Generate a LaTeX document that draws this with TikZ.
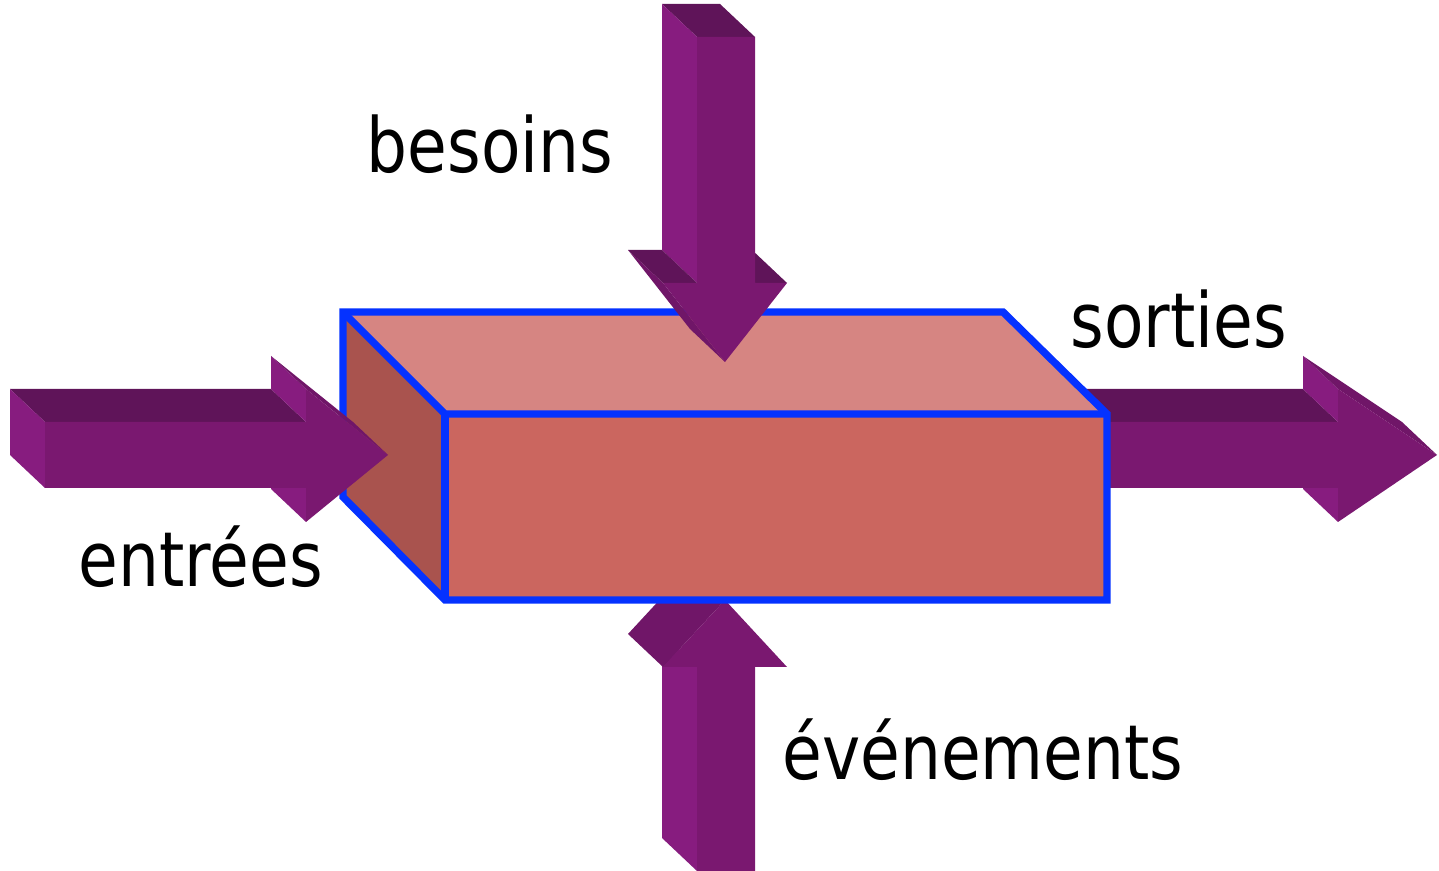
\documentclass[tikz,border=0pt]{standalone}
\usepackage{fontspec}
\setmainfont{DejaVu Sans}[FakeStretch=0.85]

\definecolor{arrowfront}{RGB}{122,24,112}
\definecolor{arrowside}{RGB}{135,28,127}
\definecolor{arrowtop}{RGB}{95,20,89}
\definecolor{arrowslant}{RGB}{112,22,104}
\definecolor{boxtop}{RGB}{214,133,130}
\definecolor{boxfront}{RGB}{203,102,95}
\definecolor{boxleft}{RGB}{169,83,78}
\definecolor{boxblue}{RGB}{5,50,255}

\begin{document}
\begin{tikzpicture}[x=0.01cm, y=-0.01cm,
    arrfront/.style={fill=arrowfront},
    arrside/.style={fill=arrowside},
    arrtop/.style={fill=arrowtop},
    arrslant/.style={fill=arrowslant},
    boxedge/.style={draw=boxblue, line width=2.1pt, line join=miter},
    lbl/.style={font=\fontsize{21.6}{26}\selectfont, inner sep=0pt, anchor=base west}]

    % Page size of the reference (pixel units, y pointing down)
    \useasboundingbox (0,0) rectangle (1439,871);

    % Arrow "sorties": drawn first, the box hides its tail
    \fill[arrtop]   (1050,422) -- (1338,422) -- (1303,389) -- (1015,389) -- cycle;
    \fill[arrside]  (1338,422) -- (1338,389) -- (1303,356) -- (1303,389) -- cycle;
    \fill[arrslant] (1338,389) -- (1437,455) -- (1402,422) -- (1303,356) -- cycle;
    \fill[arrside]  (1338,488) -- (1338,522) -- (1303,489) -- (1303,455) -- cycle;
    \fill[arrfront] (1050,422) -- (1338,422) -- (1338,389) -- (1437,455)
                    -- (1338,522) -- (1338,488) -- (1050,488) -- cycle;

    % Arrow "événements": its tip goes under the box
    \fill[arrside]  (697,871) -- (697,667) -- (662,634) -- (662,838) -- cycle;
    \fill[arrslant] (663,667) -- (725,600) -- (690,567) -- (628,634) -- cycle;
    \fill[arrfront] (697,871) -- (697,667) -- (663,667) -- (725,600)
                    -- (787,667) -- (755,667) -- (755,871) -- cycle;

    % The box: top, left and front faces, then its edges
    \fill[boxtop]   (343,312) -- (1003,312) -- (1107,414) -- (445,414) -- cycle;
    \fill[boxleft]  (343,312) -- (445,414) -- (445,600) -- (343,497) -- cycle;
    \fill[boxfront] (445,414) rectangle (1107,600);
    \draw[boxedge] (343,312) -- (1003,312) -- (1107,414) -- (1107,600)
                   -- (445,600) -- (343,497) -- cycle;
    \draw[boxedge] (343,312) -- (445,414) -- (1107,414);
    \draw[boxedge] (445,414) -- (445,600);

    % Arrow "entrées": lies over the left face
    \fill[arrtop]   (45,422) -- (306,422) -- (271,389) -- (10,389) -- cycle;
    \fill[arrside]  (45,422) -- (45,488) -- (10,455) -- (10,389) -- cycle;
    \fill[arrside]  (306,422) -- (306,389) -- (271,356) -- (271,389) -- cycle;
    \fill[arrslant] (306,389) -- (388,455) -- (353,422) -- (271,356) -- cycle;
    \fill[arrside]  (306,488) -- (306,522) -- (271,489) -- (271,455) -- cycle;
    \fill[arrfront] (45,422) -- (306,422) -- (306,389) -- (388,455)
                    -- (306,522) -- (306,488) -- (45,488) -- cycle;

    % Arrow "besoins": lies over the top face
    \fill[arrtop]   (697,37) -- (755,37) -- (720,4) -- (662,4) -- cycle;
    \fill[arrside]  (697,283) -- (697,37) -- (662,4) -- (662,250) -- cycle;
    \fill[arrtop]   (755,283) -- (787,283) -- (752,250) -- (720,250) -- cycle;
    \fill[arrtop]   (663,283) -- (697,283) -- (662,250) -- (628,250) -- cycle;
    \fill[arrslant] (725,362) -- (663,283) -- (628,250) -- (690,329) -- cycle;
    \fill[arrfront] (697,37) -- (755,37) -- (755,283) -- (787,283)
                    -- (725,362) -- (663,283) -- (697,283) -- cycle;

    % Labels
    \node[lbl] (besoins)    at (366,173)  {besoins};
    \node[lbl] (entrees)    at (78,587)   {entrées};
    \node[lbl] (sorties)    at (1070,348) {sorties};
    \node[lbl] (evenements) at (782,780)  {événements};

\end{tikzpicture}
\end{document}
